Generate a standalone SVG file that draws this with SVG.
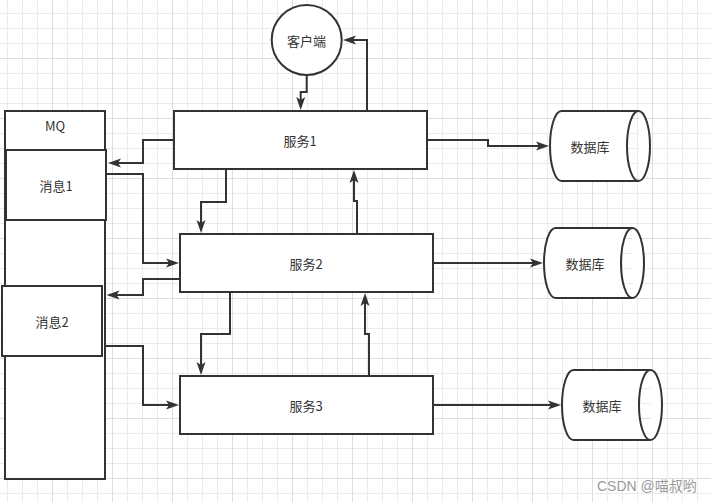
<svg xmlns="http://www.w3.org/2000/svg" width="711" height="502" viewBox="0 0 711 502">
<style>
.box{fill:#fff;stroke:#333;stroke-width:2}
.db{fill:#fff;stroke:#333;stroke-width:2}
.lbl{font-family:"Noto Sans CJK SC","Liberation Sans",sans-serif;font-size:13px;fill:#333;text-anchor:middle;dominant-baseline:central}
.conn{fill:none;stroke:#333;stroke-width:2;marker-end:url(#arr)}
</style>
<defs>
<pattern id="gminor" x="7" y="13" width="15" height="15" patternUnits="userSpaceOnUse">
<path d="M0,0.5 H15 M0.5,0 V15" stroke="#ebebeb" stroke-width="1" fill="none"/>
</pattern>
<pattern id="gmajor" x="52" y="58" width="60" height="60" patternUnits="userSpaceOnUse">
<path d="M0,0.5 H60 M0.5,0 V60" stroke="#dedede" stroke-width="1" fill="none"/>
</pattern>
<marker id="arr" markerUnits="userSpaceOnUse" markerWidth="14" markerHeight="10" refX="10" refY="5" orient="auto">
<path d="M0,0.5 L13,5 L0,9.5 L3,5 Z" fill="#333"/>
</marker>
</defs>
<rect width="711" height="502" fill="#fff"/>
<rect width="711" height="502" fill="url(#gminor)"/>
<rect width="711" height="502" fill="url(#gmajor)"/>

<g id="mq">
<rect class="box" x="5" y="111" width="100" height="368"/>
<text class="lbl" x="55" y="125">MQ</text>
</g>
<g id="msg1">
<rect class="box" x="6" y="150" width="100" height="70"/>
<text class="lbl" x="56" y="185">消息1</text>
</g>
<g id="msg2">
<rect class="box" x="2" y="286" width="100" height="70"/>
<text class="lbl" x="52" y="321">消息2</text>
</g>
<g id="client">
<circle class="box" cx="306.7" cy="40" r="35"/>
<text class="lbl" x="306.5" y="40.5">客户端</text>
</g>
<g id="svc1">
<rect class="box" x="174" y="111" width="253" height="58"/>
<text class="lbl" x="300" y="140">服务1</text>
</g>
<g id="svc2">
<rect class="box" x="180" y="234" width="253" height="58"/>
<text class="lbl" x="306" y="263">服务2</text>
</g>
<g id="svc3">
<rect class="box" x="180" y="376" width="253" height="58"/>
<text class="lbl" x="306" y="405">服务3</text>
</g>
<g id="db1">
<path class="db" d="M561.5,111 L638.5,111 A11.5,35 0 0 1 638.5,181 L561.5,181 A11.5,35 0 0 1 561.5,111 Z M638.5,111 A11.5,35 0 0 0 638.5,181"/>
<text class="lbl" x="590" y="146">数据库</text>
</g>
<g id="db2">
<path class="db" d="M555.5,228 L632.5,228 A11.5,35 0 0 1 632.5,298 L555.5,298 A11.5,35 0 0 1 555.5,228 Z M632.5,228 A11.5,35 0 0 0 632.5,298"/>
<text class="lbl" x="585" y="263">数据库</text>
</g>
<g id="db3">
<path class="db" d="M573.5,370 L650.5,370 A11.5,35 0 0 1 650.5,440 L573.5,440 A11.5,35 0 0 1 573.5,370 Z M650.5,370 A11.5,35 0 0 0 650.5,440"/>
<text class="lbl" x="602" y="405">数据库</text>
</g>

<g id="connectors">
<path class="conn" d="M306.7,75 L306.7,92 L300.7,92 L300.7,107"/>
<path class="conn" d="M367,111 L367,40 L346,40"/>
<path class="conn" d="M174,140 L143,140 L143,163 L111,163"/>
<path class="conn" d="M106,174 L143,174 L143,263 L176,263"/>
<path class="conn" d="M226,169 L226,202 L201,202 L201,230"/>
<path class="conn" d="M357,234 L357,201 L354,201 L354,173"/>
<path class="conn" d="M180,279 L143,279 L143,295 L109.5,295"/>
<path class="conn" d="M105,346 L143,346 L143,405 L176,405"/>
<path class="conn" d="M230,292 L230,334 L201,334 L201,372"/>
<path class="conn" d="M369,376 L369,334 L365,334 L365,296"/>
<path class="conn" d="M427,140 L488,140 L488,146 L546,146"/>
<path class="conn" d="M433,263 L540,263"/>
<path class="conn" d="M433,405 L558,405"/>
</g>

<text x="597" y="491" font-family="Liberation Sans,'Noto Sans CJK SC',sans-serif" font-size="14" fill="#999">CSDN @喵叔哟</text>
</svg>
